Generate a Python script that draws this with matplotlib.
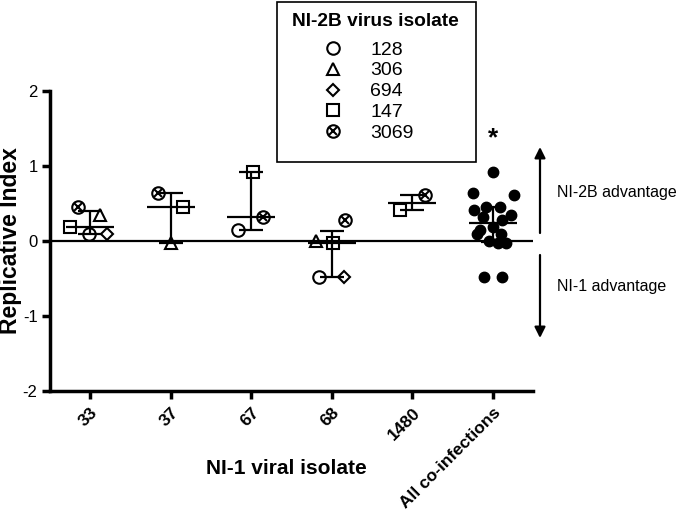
import numpy as np
import matplotlib
matplotlib.use('Agg')
import matplotlib.pyplot as plt
from matplotlib.lines import Line2D
from matplotlib.patches import Rectangle

plt.rcParams['font.family'] = ['Liberation Sans', 'DejaVu Sans']

nan = np.nan

# NI-1 isolates on the x axis
ni1_isolates = ['33', '37', '67', '68', '1480']
all_label = 'All co-infections'

# replicative index for each NI-2B isolate, in the order of ni1_isolates
ri_128 = [0.10, nan, 0.15, -0.48, nan]
ri_306 = [0.35, -0.03, nan, 0.00, nan]
ri_694 = [0.10, nan, nan, -0.48, nan]
ri_147 = [0.19, 0.46, 0.92, -0.03, 0.41]
ri_3069 = [0.46, 0.64, 0.32, 0.28, 0.61]

ni2b_isolates = ['128', '306', '694', '147', '3069']

# horizontal spread of the points inside a column (same layout as above)
dx_128 = [-0.01, nan, -0.16, -0.16, nan]
dx_306 = [0.12, 0.0, nan, -0.19, nan]
dx_694 = [0.21, nan, nan, 0.15, nan]
dx_147 = [-0.25, 0.15, 0.02, 0.01, -0.15]
dx_3069 = [-0.15, -0.16, 0.14, 0.17, 0.16]

# spread for the pooled column, points sorted from highest to lowest
dx_all = [0.0, -0.25, 0.26, -0.09, 0.09, -0.23, 0.23, -0.12, 0.12,
          0.0, -0.16, -0.19, 0.10, -0.05, 0.07, 0.16, -0.11, 0.11]

series = [ri_128, ri_306, ri_694, ri_147, ri_3069]
spreads = [dx_128, dx_306, dx_694, dx_147, dx_3069]

fig = plt.figure(figsize=(6.8, 5.12), dpi=100)
ax = fig.add_axes([50 / 680, 1 - 391 / 512, 483 / 680, 300 / 512])

mkw = dict(ls='none', mfc='none', mec='black', mew=1.5, color='black')
styles = [dict(marker='o', ms=9), dict(marker='^', ms=9),
          dict(marker='D', ms=6.6), dict(marker='s', ms=9),
          dict(marker='o', ms=9)]


def draw_marker(x, y, k):
    ax.plot(x, y, **styles[k], **mkw)
    if k == 4:
        ax.plot(x, y, marker='x', ms=6, **mkw)


for k, (vals, dxs) in enumerate(zip(series, spreads)):
    vals = np.array(vals)
    xs = np.arange(len(ni1_isolates)) + np.array(dxs)
    ok = ~np.isnan(vals)
    draw_marker(xs[ok], vals[ok], k)

# pooled column
all_vals = np.concatenate([np.array(s)[~np.isnan(s)] for s in series])
all_vals = np.sort(all_vals)[::-1]
ax.plot(len(ni1_isolates) + np.array(dx_all), all_vals, 'o', color='black',
        ms=7.5, ls='none')

# median with interquartile range
columns = []
for i in range(len(ni1_isolates)):
    v = np.array([s[i] for s in series])
    columns.append(v[~np.isnan(v)])
columns.append(all_vals)
for i, v in enumerate(columns):
    q1, med, q3 = np.percentile(v, [25, 50, 75], method='weibull')
    ax.hlines(med, i - 0.3, i + 0.3, color='black', lw=1.6, zorder=3)
    ax.vlines(i, q1, q3, color='black', lw=1.6, zorder=3)
    ax.hlines([q1, q3], i - 0.15, i + 0.15, color='black', lw=1.6, zorder=3)

ax.axhline(0, color='black', lw=1.6, zorder=1)

ax.text(5, 1.28, '*', ha='center', va='baseline', fontsize=19,
        fontweight='bold')

ax.set_xlim(-0.5, 5.5)
ax.set_ylim(-2, 2)
ax.set_yticks([-2, -1, 0, 1, 2])
ax.set_yticklabels(['-2', '-1', '0', '1', '2'])
ax.set_xticks(range(6))
ax.set_xticklabels(ni1_isolates + [all_label], rotation=45, ha='right',
                   va='top', rotation_mode='anchor', fontweight='bold')
ax.tick_params(axis='both', direction='out', length=6, width=2.5,
               labelsize=12, pad=3)
ax.tick_params(axis='x', labelsize=12.5, pad=4)
for side in ['top', 'right']:
    ax.spines[side].set_visible(False)
for side in ['left', 'bottom']:
    ax.spines[side].set_linewidth(2.5)

ax.set_ylabel('Replicative Index', fontsize=16.5, fontweight='bold')
ax.yaxis.set_label_coords(-0.058, 0.5)
ax.set_xlabel('NI-1 viral isolate', fontsize=15, fontweight='bold')
ax.xaxis.set_label_coords(0.49, -0.225)

# side arrows
arrow = dict(arrowstyle='-|>', lw=1.6, color='black', mutation_scale=16,
             shrinkA=0, shrinkB=0)
ax.annotate('', xy=(540 / 680, 1 - 147 / 512), xytext=(540 / 680, 1 - 233 / 512),
            xycoords='figure fraction', arrowprops=arrow, annotation_clip=False)
ax.annotate('', xy=(540 / 680, 1 - 338 / 512), xytext=(540 / 680, 1 - 255 / 512),
            xycoords='figure fraction', arrowprops=arrow, annotation_clip=False)
fig.text(557 / 680, 1 - 193 / 512, 'NI-2B advantage', fontsize=11.5,
         va='center', ha='left')
fig.text(557 / 680, 1 - 287 / 512, 'NI-1 advantage', fontsize=11.5,
         va='center', ha='left')

# legend
handles = []
for k in range(5):
    h = Line2D([], [], **styles[k], **mkw)
    if k == 4:
        h = (h, Line2D([], [], marker='x', ms=6, **mkw))
    handles.append(h)
leg = fig.legend(handles, ni2b_isolates, loc='upper left',
                 bbox_to_anchor=(289 / 680, 1 - 41 / 512), frameon=False,
                 fontsize=14, handlelength=4.53, handletextpad=-0.36,
                 labelspacing=0.167, borderpad=0, borderaxespad=0)
fig.text(292 / 680, 1 - 22 / 512, 'NI-2B virus isolate', fontsize=13.8,
         fontweight='bold', ha='left', va='center')
fig.patches.append(Rectangle((277 / 680, 1 - 162 / 512), 199 / 680, 160 / 512,
                             transform=fig.transFigure, fill=False,
                             edgecolor='black', lw=1.2))

fig.savefig('out.png', dpi=100)
